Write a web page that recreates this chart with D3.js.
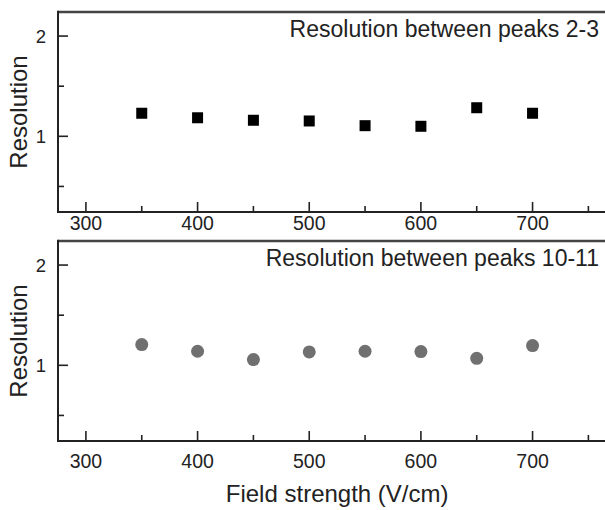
<!DOCTYPE html>
<html><head><meta charset="utf-8">
<script src="https://cdn.jsdelivr.net/npm/d3@7"></script>
<style>
body{margin:0;background:#fff}
svg{display:block}
text{font-family:"Liberation Sans",Arial,sans-serif;fill:#222}
</style>
</head><body>
<svg id="c" width="605" height="510"></svg>
<script>
const fieldStrength = [350, 400, 450, 500, 550, 600, 650, 700];
const res23 = [1.23, 1.185, 1.16, 1.153, 1.106, 1.10, 1.285, 1.23];
const res1011 = [1.207, 1.14, 1.057, 1.134, 1.14, 1.137, 1.07, 1.197];
const xMajorTicks = [300, 400, 500, 600, 700];
const xMinorTicks = [350, 450, 550, 650, 750];
const yMajorTicks = [1, 2];
const yMinorTicks = [0.5, 1.5];
const panelLabels = ["Resolution between peaks 2-3", "Resolution between peaks 10-11"];
const yTitle = "Resolution";
const xTitle = "Field strength (V/cm)";

const svg = d3.select("#c");
const left = 58, right = 616.3;
const x = d3.scaleLinear().domain([275, 775]).range([left, right]);

const panels = [
  {off: 0, values: res23, marker: "square", labelDy: 18},
  {off: 229, values: res1011, marker: "circle", labelDy: 27}
];

panels.forEach((p, i) => {
  const top = 12 + p.off, bottom = 212 + p.off;
  const y = d3.scaleLinear().domain([0.245, 2.24]).range([bottom, top]);
  const g = svg.append("g");

  g.append("line").attr("x1", left).attr("x2", right).attr("y1", top).attr("y2", top)
    .attr("stroke", "#444").attr("stroke-width", 2.5);
  g.append("line").attr("x1", left).attr("x2", left).attr("y1", top - 1.2).attr("y2", bottom + 1)
    .attr("stroke", "#222").attr("stroke-width", 2);
  g.append("line").attr("x1", left - 1).attr("x2", right).attr("y1", bottom).attr("y2", bottom)
    .attr("stroke", "#222").attr("stroke-width", 2);

  g.selectAll(".xM").data(xMajorTicks).enter().append("line")
    .attr("x1", d => x(d)).attr("x2", d => x(d)).attr("y1", bottom).attr("y2", bottom - 10)
    .attr("stroke", "#222").attr("stroke-width", 1.6);
  g.selectAll(".xm").data(xMinorTicks).enter().append("line")
    .attr("x1", d => x(d)).attr("x2", d => x(d)).attr("y1", bottom).attr("y2", bottom - 6)
    .attr("stroke", "#222").attr("stroke-width", 1.6);
  g.selectAll(".xl").data(xMajorTicks).enter().append("text")
    .attr("x", d => x(d)).attr("y", bottom + p.labelDy)
    .attr("text-anchor", "middle").attr("font-size", 19.5).text(d => d);

  g.selectAll(".yM").data(yMajorTicks).enter().append("line")
    .attr("x1", left).attr("x2", left + 10).attr("y1", d => y(d)).attr("y2", d => y(d))
    .attr("stroke", "#222").attr("stroke-width", 1.6);
  g.selectAll(".ym").data(yMinorTicks).enter().append("line")
    .attr("x1", left).attr("x2", left + 6).attr("y1", d => y(d)).attr("y2", d => y(d))
    .attr("stroke", "#222").attr("stroke-width", 1.6);
  g.selectAll(".yl").data(yMajorTicks).enter().append("text")
    .attr("x", 46).attr("y", d => y(d)).attr("dy", "0.35em")
    .attr("text-anchor", "end").attr("font-size", 18.5).text(d => d);

  g.append("text").attr("transform", `translate(27,${(top + bottom) / 2}) rotate(-90)`)
    .attr("text-anchor", "middle").attr("font-size", 24).text(yTitle);

  g.append("text").attr("x", 599).attr("y", 37 + p.off)
    .attr("text-anchor", "end").attr("font-size", 23).text(panelLabels[i]);

  const pts = fieldStrength.map((f, k) => ({f, v: p.values[k]}));
  if (p.marker === "square") {
    g.selectAll(".pt").data(pts).enter().append("rect")
      .attr("x", d => x(d.f) - 5.5).attr("y", d => y(d.v) - 5.5)
      .attr("width", 11).attr("height", 11).attr("fill", "#000");
  } else {
    g.selectAll(".pt").data(pts).enter().append("circle")
      .attr("cx", d => x(d.f)).attr("cy", d => y(d.v)).attr("r", 6.5)
      .attr("fill", "#707070");
  }
});

svg.append("text").attr("x", (left + right) / 2).attr("y", 502)
  .attr("text-anchor", "middle").attr("font-size", 24).text(xTitle);
</script>
</body></html>
